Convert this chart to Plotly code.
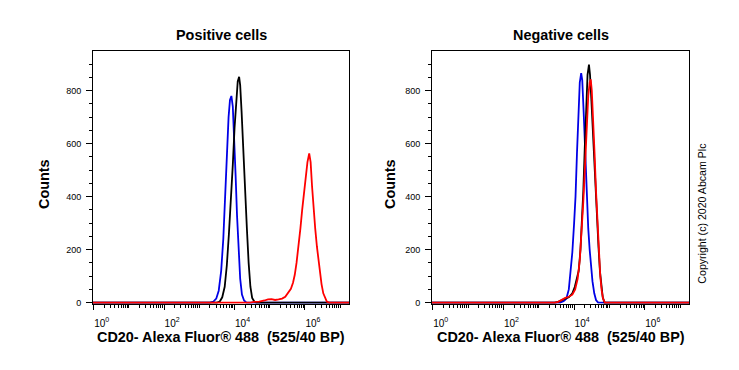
import plotly.graph_objects as go

# ---- data (log10 of fluorescence intensity, counts) ----
pos_blue_log = [-0.05, 3.30, 3.40, 3.48, 3.55, 3.62, 3.68, 3.73, 3.78, 3.83, 3.87, 3.91, 3.95, 3.99, 4.03, 4.07, 4.11, 4.16, 4.21, 4.27, 4.34, 7.3]
pos_blue_cnt = [0, 0, 4, 15, 45, 120, 240, 390, 560, 700, 765, 780, 740, 630, 480, 330, 200, 90, 30, 8, 0, 0]

pos_black_log = [-0.05, 3.50, 3.58, 3.65, 3.72, 3.78, 3.84, 3.90, 3.95, 4.00, 4.05, 4.09, 4.13, 4.16, 4.20, 4.25, 4.30, 4.35, 4.40, 4.45, 4.50, 4.56, 4.62, 7.3]
pos_black_cnt = [0, 0, 4, 20, 60, 140, 260, 390, 520, 660, 780, 835, 852, 820, 720, 560, 420, 280, 150, 60, 18, 4, 0, 0]

pos_red_log = [-0.05, 4.45, 4.55, 4.70, 4.85, 4.95, 5.05, 5.15, 5.25, 5.35, 5.44, 5.52, 5.60, 5.66, 5.71, 5.76, 5.82, 5.87, 5.92, 5.97, 6.02, 6.07, 6.12, 6.16, 6.20, 6.24, 6.29, 6.34, 6.38, 6.43, 6.47, 6.52, 6.57, 6.62, 6.68, 7.3]
pos_red_cnt = [0, 0, 3, 4, 8, 12, 13, 10, 12, 15, 22, 35, 52, 75, 105, 150, 210, 280, 350, 410, 470, 530, 563, 530, 440, 360, 280, 210, 160, 105, 70, 35, 15, 4, 0, 0]

neg_blue_log = [-0.05, 3.60, 3.70, 3.78, 3.85, 3.90, 3.95, 4.00, 4.04, 4.08, 4.12, 4.16, 4.20, 4.23, 4.27, 4.31, 4.36, 4.40, 4.44, 4.48, 4.52, 4.57, 4.62, 4.68, 7.3]
neg_blue_cnt = [0, 0, 5, 15, 50, 110, 190, 300, 400, 560, 720, 830, 866, 840, 720, 560, 400, 280, 200, 130, 80, 35, 10, 0, 0]

neg_black_log = [-0.05, 3.45, 3.55, 3.65, 3.75, 3.85, 3.95, 4.02, 4.08, 4.13, 4.18, 4.22, 4.26, 4.30, 4.34, 4.38, 4.42, 4.45, 4.49, 4.53, 4.57, 4.61, 4.65, 4.69, 4.73, 4.77, 4.81, 4.86, 7.3]
neg_black_cnt = [0, 0, 3, 10, 15, 20, 35, 60, 90, 120, 200, 300, 420, 580, 740, 860, 898, 860, 760, 640, 520, 430, 330, 210, 120, 55, 20, 0, 0]

neg_red_log = [-0.05, 3.45, 3.55, 3.65, 3.75, 3.85, 3.95, 4.03, 4.10, 4.16, 4.21, 4.26, 4.31, 4.36, 4.40, 4.44, 4.47, 4.50, 4.54, 4.58, 4.62, 4.66, 4.70, 4.74, 4.78, 4.82, 4.87, 7.3]
neg_red_cnt = [0, 0, 3, 12, 18, 22, 30, 50, 90, 160, 260, 380, 520, 670, 780, 830, 843, 800, 700, 560, 420, 300, 190, 100, 45, 15, 0, 0]

panel_titles = ["Positive cells", "Negative cells"]
x_title = "CD20- Alexa Fluor® 488\u00a0\u00a0(525/40 BP)"
y_title = "Counts"
copyright_text = "Copyright (c) 2020 Abcam Plc"

label_decades = [0, 2, 4, 6]
decade_labels = ["10<sup>%d</sup>" % d for d in label_decades]
y_ticks = [0, 200, 400, 600, 800]

# ---- figure ----
BLUE = "#0000e6"
BLACK = "#000000"
RED = "#ff0000"
LW = 1.8

fig = go.Figure()

def add(xlog, cnt, color, axis):
    fig.add_trace(go.Scatter(
        x=[10 ** v for v in xlog], y=cnt, mode="lines",
        line=dict(color=color, width=LW), xaxis="x" + axis, yaxis="y" + axis,
        showlegend=False, hoverinfo="skip"))

add(pos_blue_log, pos_blue_cnt, BLUE, "")
add(pos_black_log, pos_black_cnt, BLACK, "")
add(pos_red_log, pos_red_cnt, RED, "")
add(neg_blue_log, neg_blue_cnt, BLUE, "2")
add(neg_black_log, neg_black_cnt, BLACK, "2")
add(neg_red_log, neg_red_cnt, RED, "2")

W, H = 739, 370
dom_left = [93 / W, 349 / W]
dom_right = [432 / W, 689 / W]
dom_y = [1 - 307 / H, 1 - 52 / H]

minor_x = [m * 10 ** d for d in range(0, 8) for m in range(1, 10)
           if not (m == 1 and d in label_decades)]

def xaxis(domain, anchor):
    return dict(
        domain=domain, anchor=anchor, type="log", range=[-0.02, 7.25],
        showline=True, linecolor="black", linewidth=1, mirror=True,
        showgrid=False, zeroline=False,
        tickmode="array", tickvals=[10 ** d for d in label_decades], ticktext=decade_labels,
        ticks="outside", ticklen=5, tickcolor="black", tickwidth=1,
        tickfont=dict(family="Liberation Sans, Arial", size=10, color="black"),
        ticklabelshift=8, ticklabelstandoff=5,
        minor=dict(tickmode="array", tickvals=minor_x, ticks="outside", ticklen=3,
                   tickcolor="black", tickwidth=1, showgrid=False),
    )

def yaxis(anchor):
    return dict(
        domain=dom_y, anchor=anchor, range=[-4, 948],
        showline=True, linecolor="black", linewidth=1, mirror=True,
        showgrid=False, zeroline=False,
        tickmode="array", tickvals=y_ticks,
        ticks="outside", ticklen=6, tickcolor="black", tickwidth=1,
        tickfont=dict(family="Liberation Sans, Arial", size=9, color="black"),
        ticklabelstandoff=3,
        minor=dict(dtick=50, tick0=0, ticks="outside", ticklen=3,
                   tickcolor="black", tickwidth=1, showgrid=False),
    )

fig.update_layout(
    width=W, height=H, margin=dict(l=0, r=0, t=0, b=0),
    paper_bgcolor="white", plot_bgcolor="white",
    xaxis=xaxis(dom_left, "y"), yaxis=yaxis("x"),
    xaxis2=xaxis(dom_right, "y2"), yaxis2=yaxis("x2"),
)

bold = dict(family="Liberation Sans, Arial", size=14.4, color="black")
ann = []
for i, (dom, title) in enumerate(zip([dom_left, dom_right], panel_titles)):
    cx = (dom[0] + dom[1]) / 2
    ann.append(dict(text="<b>%s</b>" % title, x=cx, y=1 - 35 / H, xref="paper", yref="paper",
                    showarrow=False, font=bold, xanchor="center", yanchor="middle"))
    ann.append(dict(text="<b>%s</b>" % x_title, x=cx, y=1 - 341 / H, xref="paper", yref="paper",
                    showarrow=False, font=bold, xanchor="center", yanchor="middle"))
for xc in (44, 390):
    ann.append(dict(text="<b>%s</b>" % y_title, x=xc / W, y=1 - 186 / H, xref="paper", yref="paper",
                    showarrow=False, font=bold, textangle=-90, xanchor="center", yanchor="middle"))
ann.append(dict(text=copyright_text, x=702 / W, y=1 - 216 / H, xref="paper", yref="paper",
                showarrow=False, font=dict(family="Liberation Sans, Arial", size=10.6, color="black"),
                textangle=-90, xanchor="center", yanchor="middle"))
fig.update_layout(annotations=ann)

fig.write_html("out.html", config={"displayModeBar": False},
               post_script="document.body.style.margin='0';")
